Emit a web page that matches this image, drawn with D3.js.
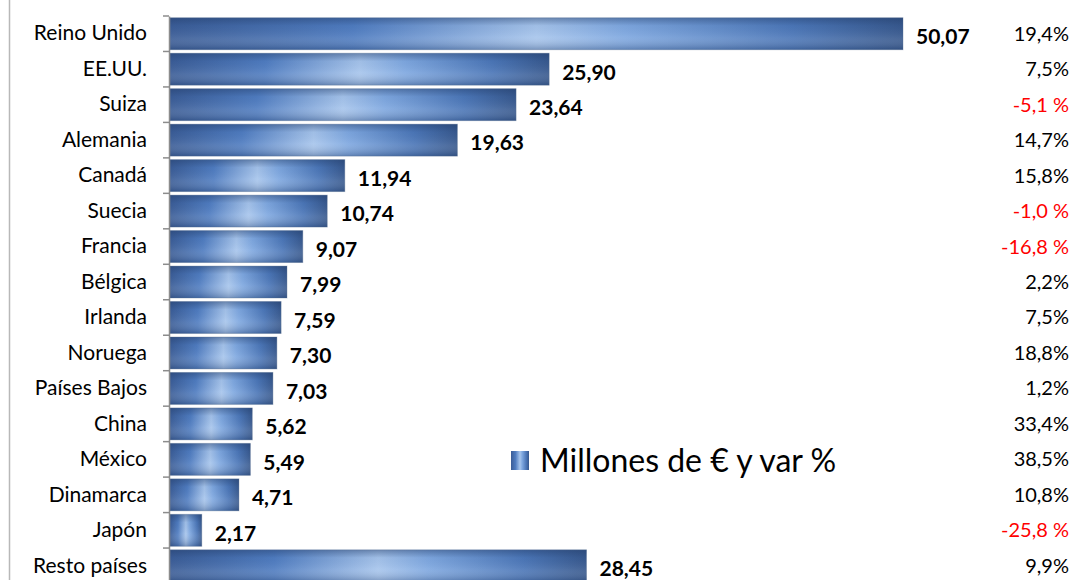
<!DOCTYPE html>
<html>
<head>
<meta charset="utf-8">
<script src="https://cdn.jsdelivr.net/npm/d3@7"></script>
<style>
  body { margin: 0; background: #fff; }
  svg { display: block; font-family: Lato, "Open Sans", sans-serif; }
</style>
</head>
<body>
<svg id="chart" width="1074" height="580"></svg>
<script>
var paises = ["Reino Unido", "EE.UU.", "Suiza", "Alemania", "Canadá", "Suecia", "Francia", "Bélgica",
              "Irlanda", "Noruega", "Países Bajos", "China", "México", "Dinamarca", "Japón", "Resto países"];
var millones = [50.07, 25.90, 23.64, 19.63, 11.94, 10.74, 9.07, 7.99, 7.59, 7.30, 7.03, 5.62, 5.49, 4.71, 2.17, 28.45];
var variacion = [19.4, 7.5, -5.1, 14.7, 15.8, -1.0, -16.8, 2.2, 7.5, 18.8, 1.2, 33.4, 38.5, 10.8, -25.8, 9.9];
var leyenda = "Millones de € y var %";

var svg = d3.select("#chart");
var margin = {left: 169, top: 16};

var fmt = function(v) { return v.toFixed(2).replace(".", ","); };
var fmtPct = function(v) {
    var s = v.toFixed(1).replace(".", ",");
    return v < 0 ? s + " %" : s + "%";
};

var x = d3.scaleLinear()
    .domain([0, 50.07])
    .range([0, 733]);

var y = d3.scaleBand()
    .domain(paises)
    .range([margin.top, margin.top + 35.47 * paises.length])
    .paddingInner(0.1)
    .paddingOuter(0.05);

// gradients for the bars
var defs = svg.append("defs");
var gH = defs.append("linearGradient").attr("id", "barH");
[[0, "#3a5c96"], [0.25, "#4f7cc0"], [0.5, "#a7c5ec"], [0.62, "#7fa8e0"], [0.85, "#4b76b7"], [1, "#37588d"]]
    .forEach(function(s) { gH.append("stop").attr("offset", s[0]).attr("stop-color", s[1]); });
var gV = defs.append("linearGradient").attr("id", "barV").attr("x1", 0).attr("y1", 0).attr("x2", 0).attr("y2", 1);
[[0, "#203a66", 0.45], [0.25, "#203a66", 0.05], [0.6, "#ffffff", 0.08], [1, "#203a66", 0.35]]
    .forEach(function(s) {
        gV.append("stop").attr("offset", s[0]).attr("stop-color", s[1]).attr("stop-opacity", s[2]);
    });

// outer chart border line on the left
svg.append("line")
    .attr("x1", 9.5).attr("x2", 9.5)
    .attr("y1", 0).attr("y2", 580)
    .attr("stroke", "#b8b8b8")
    .attr("stroke-width", 1.5);

var g = svg.append("g").attr("transform", "translate(" + margin.left + ",0)");

var bars = g.selectAll(".bar")
    .data(paises)
    .enter()
    .append("g")
    .classed("bar", true);

bars.append("rect")
    .attr("x", 1)
    .attr("y", function(d) { return y(d); })
    .attr("width", function(d, i) { return x(millones[i]); })
    .attr("height", y.bandwidth())
    .attr("fill", "url(#barH)");

bars.append("rect")
    .attr("x", 1)
    .attr("y", function(d) { return y(d); })
    .attr("width", function(d, i) { return x(millones[i]); })
    .attr("height", y.bandwidth())
    .attr("fill", "url(#barV)")
    .attr("stroke", "#5a6f8f")
    .attr("stroke-opacity", 0.35);

// value labels
g.selectAll(".valor")
    .data(paises)
    .enter()
    .append("text")
    .classed("valor", true)
    .attr("x", function(d, i) { return x(millones[i]) + 14; })
    .attr("y", function(d) { return y(d) + y.bandwidth() / 2 + 3; })
    .attr("dy", "0.35em")
    .style("font-size", "21px")
    .style("font-weight", "bold")
    .attr("fill", "#000")
    .text(function(d, i) { return fmt(millones[i]); });

// percent labels
svg.selectAll(".pct")
    .data(paises)
    .enter()
    .append("text")
    .classed("pct", true)
    .attr("x", 1069)
    .attr("y", function(d) { return y(d) + y.bandwidth() / 2; })
    .attr("dy", "0.35em")
    .attr("text-anchor", "end")
    .style("font-size", "20px")
    .attr("fill", function(d, i) { return variacion[i] < 0 ? "#ff0000" : "#000"; })
    .text(function(d, i) { return fmtPct(variacion[i]); });

// category axis
var yAxis = d3.axisLeft(y).tickSize(0).tickPadding(22);
var ax = g.append("g").call(yAxis);
ax.select(".domain").attr("stroke", "#8c8c8c").attr("stroke-width", 1.5);
ax.selectAll("text")
    .style("font-size", "21px")
    .style("font-family", "Lato, 'Open Sans', sans-serif")
    .attr("fill", "#000");

// tick marks at category boundaries
var bounds = paises.map(function(d) { return y(d) - y.step() * y.paddingInner() / 2; });
g.selectAll(".sep")
    .data(bounds)
    .enter()
    .append("line")
    .classed("sep", true)
    .attr("x1", -6).attr("x2", 0)
    .attr("y1", function(d) { return d; })
    .attr("y2", function(d) { return d; })
    .attr("stroke", "#8c8c8c")
    .attr("stroke-width", 1.5);

// legend
var lg = svg.append("g").attr("transform", "translate(511,451)");
lg.append("rect")
    .attr("width", 18).attr("height", 19)
    .attr("fill", "url(#barH)");
lg.append("text")
    .attr("x", 29)
    .attr("y", 10)
    .attr("dy", "0.35em")
    .style("font-size", "32px")
    .attr("fill", "#000")
    .text(leyenda);
</script>
</body>
</html>
